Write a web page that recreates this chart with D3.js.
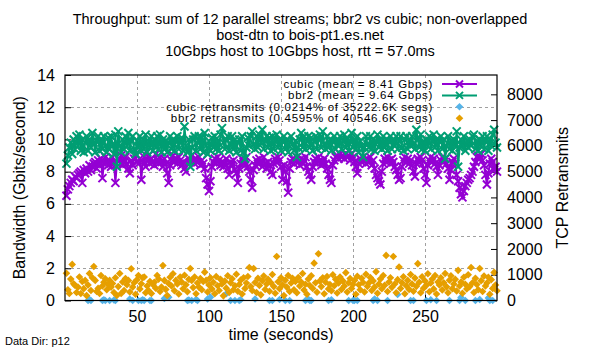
<!DOCTYPE html>
<html>
<head>
<meta charset="utf-8">
<script src="https://cdn.jsdelivr.net/npm/d3@7"></script>
<style>
  html, body { margin: 0; padding: 0; background: #fff; }
  svg { display: block; }
  text { font-family: "Liberation Sans", Arial, sans-serif; fill: #000; }
</style>
</head>
<body>
<svg id="chart" width="600" height="350"></svg>
<script>
// ---------------- DATA ----------------
const titleLines = [
  "Throughput: sum of 12 parallel streams; bbr2 vs cubic; non-overlapped",
  "bost-dtn to bois-pt1.es.net",
  "10Gbps host to 10Gbps host, rtt = 57.0ms"
];
const legendLabels = [
  "cubic (mean = 8.41 Gbps)",
  "bbr2 (mean = 9.64 Gbps)",
  "cubic retransmits (0.0214% of 35222.6K segs)",
  "bbr2 retransmits (0.4595% of 40546.6K segs)"
];
const xTicks = [50, 100, 150, 200, 250];
const yTicks = [0, 2, 4, 6, 8, 10, 12, 14];
const y2Ticks = [0, 1000, 2000, 3000, 4000, 5000, 6000, 7000, 8000];

// throughput per second (Gbps), t = 1..300
const cubicGbps = [
  6.5,6.9,7.1,7.3,7.5,7.4,7.7,7.6,7.8,7.9,
  8.0,7.3,8.1,7.9,8.2,8.0,8.4,8.1,8.3,8.5,
  8.6,8.2,8.7,8.4,8.8,7.6,8.5,8.9,8.6,8.4,
  8.7,8.3,8.9,8.6,7.3,8.5,8.8,8.7,9.0,8.4,
  8.6,8.9,8.5,8.2,7.9,8.7,8.4,8.8,9.1,8.6,
  8.5,8.8,7.5,8.6,8.9,8.3,8.7,9.0,8.5,8.8,
  8.6,8.4,9.1,8.7,8.5,8.9,8.6,8.3,8.8,8.5,
  7.9,7.3,8.4,8.7,9.0,8.6,8.8,8.5,8.9,8.7,
  8.4,8.6,8.2,8.0,8.5,8.8,8.6,9.0,8.7,8.5,
  8.8,8.6,8.9,8.4,8.7,8.5,8.2,7.6,7.2,6.8,
  7.4,8.3,8.6,8.8,8.5,8.9,8.7,8.4,8.6,8.3,
  8.5,8.8,8.2,7.8,8.6,8.4,8.7,8.1,7.9,7.3,
  8.2,8.5,8.8,8.6,8.4,8.9,8.3,8.0,7.5,7.0,
  8.1,8.4,8.7,8.5,8.8,8.6,8.3,8.9,8.5,8.2,
  8.6,8.4,8.0,7.8,8.5,8.8,8.6,8.9,8.7,8.3,
  7.5,8.4,8.0,7.4,6.7,8.2,8.6,8.8,8.5,8.7,
  8.9,8.6,8.4,8.8,8.5,8.7,8.9,8.3,8.0,7.8,
  7.5,8.3,8.6,8.8,8.5,8.9,8.7,8.4,8.6,8.8,
  8.5,8.2,7.8,7.5,7.3,8.4,8.7,8.9,9.0,8.8,
  9.1,8.9,9.0,8.8,9.1,8.9,9.0,8.7,9.1,8.9,
  8.6,8.3,7.9,8.5,8.8,8.6,8.9,8.7,8.5,8.8,
  8.6,8.9,8.4,8.7,8.2,7.8,7.6,7.4,7.2,8.0,
  8.5,8.8,8.6,8.9,8.7,8.5,8.8,8.6,8.3,8.1,
  7.8,7.5,7.6,8.3,8.7,8.9,8.6,8.8,8.5,8.7,
  8.4,8.0,7.7,8.5,8.8,8.6,8.9,8.7,8.2,7.8,
  7.3,8.4,8.7,8.9,8.6,8.8,8.5,8.3,7.8,8.4,
  8.7,8.9,8.6,8.8,8.5,8.2,7.5,8.1,8.6,8.8,
  8.5,7.8,7.4,7.0,6.6,6.4,6.8,7.1,7.3,7.5,
  7.6,7.8,8.0,8.3,8.6,8.9,9.0,8.8,9.1,8.7,
  8.4,7.8,7.2,7.9,8.5,8.8,8.6,8.1,8.3,8.0
];
const bbr2Gbps = [
  8.5,9.0,9.5,9.8,9.1,10.0,9.4,10.2,9.6,10.3,
  9.3,10.0,9.2,9.8,10.2,9.3,10.0,9.5,10.4,9.8,
  9.2,9.9,10.2,9.3,10.0,9.4,10.2,9.6,9.2,10.1,
  9.4,10.2,9.7,9.1,10.3,8.3,10.5,9.6,9.2,10.0,
  9.4,10.2,9.6,10.4,9.3,9.9,10.2,9.4,9.1,9.9,
  9.5,10.2,9.3,10.0,9.4,10.3,9.2,9.9,9.5,10.2,
  9.3,10.0,9.5,10.2,9.4,10.3,9.2,10.0,9.4,9.9,
  9.2,9.8,10.2,9.4,10.0,9.3,9.9,10.2,9.4,9.8,
  10.1,9.3,10.8,9.6,9.2,10.0,8.3,9.5,10.0,10.2,
  9.3,9.8,10.2,9.4,10.1,9.2,10.4,9.6,9.1,9.9,
  9.3,10.1,9.5,10.2,9.4,9.9,9.3,10.3,10.7,9.8,
  9.4,10.0,10.2,9.3,9.7,10.2,9.4,10.0,9.2,9.8,
  10.0,9.3,10.2,9.2,8.8,9.5,10.1,9.6,10.2,10.5,
  9.7,9.4,10.2,9.5,10.3,9.8,10.6,9.4,9.9,10.2,
  9.5,10.1,9.3,10.2,9.4,9.9,10.3,9.5,10.0,9.3,
  9.9,10.2,9.4,10.0,9.2,9.8,10.2,9.7,9.3,9.9,
  8.9,9.5,10.0,10.4,9.5,10.2,9.4,9.9,10.2,9.5,
  10.1,9.3,9.9,10.2,9.4,10.0,10.3,9.5,10.5,9.7,
  9.4,10.2,9.5,10.0,9.3,9.9,10.2,9.4,10.0,9.6,
  10.2,9.4,9.9,10.3,9.5,10.0,9.3,9.9,10.4,9.5,
  10.0,9.4,10.2,9.2,9.9,9.6,8.9,9.5,10.2,9.7,
  9.5,10.2,9.4,10.0,9.3,9.9,10.3,9.5,10.0,9.4,
  10.2,9.5,10.0,9.3,9.9,10.2,9.4,10.0,9.6,10.2,
  9.4,9.9,10.2,9.5,9.3,10.0,10.2,9.4,9.9,9.6,
  10.2,9.7,9.4,10.6,10.0,9.5,10.3,9.4,9.9,9.3,
  10.0,9.6,10.2,9.4,9.9,10.3,9.5,10.0,9.3,9.9,
  10.2,9.4,10.0,8.8,9.6,10.2,9.4,9.9,9.3,10.0,
  9.6,10.5,8.3,9.5,10.0,9.6,10.2,9.3,9.9,9.5,
  10.0,9.6,10.2,10.3,9.4,9.9,9.3,10.0,9.6,10.2,
  9.4,9.9,10.2,9.3,10.0,9.6,10.3,10.6,9.8,9.5
];
// bbr2 retransmits per second, t = 1..300
const bbr2Retrans = [
  1060,420,270,830,1400,650,580,310,520,910,
  270,740,460,780,190,600,1050,390,880,1320,
  780,350,470,270,970,560,710,840,420,620,
  780,520,660,310,880,195,540,1050,270,720,
  390,850,610,780,330,1230,520,690,240,810,
  970,450,650,880,910,300,560,390,740,270,
  620,710,480,970,830,350,520,1360,780,430,
  195,660,900,560,1040,380,780,640,250,910,
  720,455,980,610,340,820,1240,780,500,910,
  260,680,520,850,420,740,1100,780,330,600,
  880,450,710,260,930,570,390,820,640,180,
  750,480,960,310,690,840,420,570,1020,360,
  620,790,250,880,470,680,930,1280,540,390,
  1240,700,310,860,580,220,770,950,430,640,
  820,360,690,1010,540,280,1710,730,460,880,
  610,190,790,520,970,350,680,860,420,740,
  300,890,560,720,1050,410,630,240,830,580,
  960,470,1450,690,320,1815,760,540,880,260,
  710,930,450,620,380,1000,570,820,290,680,
  910,430,760,560,1080,330,690,850,470,620,
  780,240,940,610,420,860,700,330,1020,550,
  680,890,390,760,520,1120,280,640,830,460,
  970,590,1750,350,720,880,510,1710,640,300,
  810,1300,470,690,920,260,570,780,430,1010,
  640,360,870,550,1430,710,300,920,480,760,
  590,1040,340,680,830,450,970,250,720,600,
  880,410,690,1050,530,300,790,960,460,640,
  820,370,1170,560,720,280,900,630,450,1000,
  540,1280,690,310,860,620,420,1240,770,350,
  950,560,680,900,240,810,470,1090,600,380
];
// cubic retransmits: only the seconds where a point is drawn
const cubicRetransTimes = [
  16,17,18,26,27,28,31,34,35,45,47,51,53,54,55,59,60,69,72,85,86,88,91,92,99,
  101,112,115,118,121,122,132,142,144,149,153,156,167,169,170,171,183,185,197,200,
  201,203,214,215,217,224,231,240,242,251,254,258,267,274,275,278,285,288,294,295,297
];
const cubicRetransValues = [
  0,40,0,0,30,0,0,20,0,60,0,0,0,30,0,0,0,80,130,0,20,0,40,0,60,
  130,260,0,0,0,30,60,0,0,40,0,0,0,50,0,0,0,30,0,0,
  0,0,0,60,0,0,230,0,0,0,30,0,0,0,120,0,0,40,100,0,0
];

// ---------------- CHART ----------------
const svg = d3.select("#chart");
const L = 65, R = 497, T = 75, B = 300.5;
const seconds = cubicGbps.map((d, i) => i + 1);

const x = d3.scaleLinear().domain([0, 300]).range([L, R]);
const y = d3.scaleLinear().domain([0, 14]).range([B, T]);
const y2 = d3.scaleLinear().domain([0, 8750]).range([B, T]);

const colors = { cubic: "#9400d3", bbr2: "#009e73", cubicR: "#56b4e9", bbr2R: "#e69f00" };

// title
svg.append("g").selectAll("text").data(titleLines).join("text")
  .attr("x", 300).attr("y", (d, i) => 24 + i * 16)
  .attr("text-anchor", "middle").style("font-size", "14.5px").text(d => d);

// grid
const grid = svg.append("g").attr("stroke", "#a0a0a0").attr("stroke-width", 1).attr("stroke-dasharray", "3,3");
grid.selectAll(".gx").data(xTicks).join("line")
  .attr("x1", d => Math.round(x(d)) + 0.5).attr("x2", d => Math.round(x(d)) + 0.5)
  .attr("y1", T).attr("y2", B);
grid.selectAll(".gy").data(yTicks.filter(d => d > 0 && d < 14)).join("line")
  .attr("y1", d => Math.round(y(d)) + 0.5).attr("y2", d => Math.round(y(d)) + 0.5)
  .attr("x1", L).attr("x2", R);

// axes
const tickFont = "16px";
const xAxis = svg.append("g").attr("transform", `translate(0,${B})`)
  .call(d3.axisBottom(x).tickValues(xTicks).tickSizeInner(-6).tickSizeOuter(0).tickPadding(10));
const yAxis = svg.append("g").attr("transform", `translate(${L},0)`)
  .call(d3.axisLeft(y).tickValues(yTicks).tickSizeInner(-6).tickSizeOuter(0).tickPadding(10));
const y2Axis = svg.append("g").attr("transform", `translate(${R},0)`)
  .call(d3.axisRight(y2).tickValues(y2Ticks).tickFormat(d3.format("d")).tickSizeInner(-6).tickSizeOuter(0).tickPadding(10));
[xAxis, yAxis, y2Axis].forEach(g => {
  g.select(".domain").remove();
  g.selectAll("text").style("font-size", tickFont).style("font-family", '"Liberation Sans", Arial, sans-serif').attr("fill", "#000");
  g.selectAll(".tick line").attr("stroke", "#000");
});

// data marks
const plot = svg.append("g");
const crossSize = 4;
function linePoints(vals, color) {
  const line = d3.line().x((d, i) => x(seconds[i])).y(d => y(d));
  plot.append("path").datum(vals).attr("d", line).attr("fill", "none")
    .attr("stroke", color).attr("stroke-width", 2);
  const s = crossSize;
  plot.append("g").selectAll("path").data(vals).join("path")
    .attr("d", (d, i) => {
      const cx = x(seconds[i]), cy = y(d);
      return `M${cx - s},${cy - s}L${cx + s},${cy + s}M${cx - s},${cy + s}L${cx + s},${cy - s}`;
    })
    .attr("stroke", color).attr("stroke-width", 2).attr("fill", "none");
}
const diamond = (cx, cy, s) => `M${cx},${cy - s}L${cx + s},${cy}L${cx},${cy + s}L${cx - s},${cy}Z`;
linePoints(cubicGbps, colors.cubic);
linePoints(bbr2Gbps, colors.bbr2);
plot.append("g").selectAll("path").data(cubicRetransValues).join("path")
  .attr("d", (d, i) => diamond(x(cubicRetransTimes[i]), y2(d), 3.8)).attr("fill", colors.cubicR);
plot.append("g").selectAll("path").data(bbr2Retrans).join("path")
  .attr("d", (d, i) => diamond(x(seconds[i]), y2(d), 3.8)).attr("fill", colors.bbr2R);

// border
svg.append("rect").attr("x", L).attr("y", T).attr("width", R - L).attr("height", B - T)
  .attr("fill", "none").attr("stroke", "#000").attr("stroke-width", 1.2);

// legend
const legend = svg.append("g");
const legendColors = [colors.cubic, colors.bbr2, colors.cubicR, colors.bbr2R];
legendLabels.forEach((lab, i) => {
  const cy = 84 + i * 11.4;
  legend.append("text").attr("x", 433).attr("y", cy).attr("dy", "0.35em")
    .attr("text-anchor", "end").style("font-size", "11.5px").style("letter-spacing", "0.7px").text(lab);
  if (i < 2) {
    legend.append("line").attr("x1", 442).attr("x2", 477).attr("y1", cy).attr("y2", cy)
      .attr("stroke", legendColors[i]).attr("stroke-width", 2);
    const s = 3.5, cx = 459.5;
    legend.append("path").attr("d", `M${cx - s},${cy - s}L${cx + s},${cy + s}M${cx - s},${cy + s}L${cx + s},${cy - s}`)
      .attr("stroke", legendColors[i]).attr("stroke-width", 2);
  } else {
    legend.append("path").attr("d", diamond(459.5, cy, 3.8)).attr("fill", legendColors[i]);
  }
});

// axis labels
svg.append("text").attr("transform", `translate(19,${(T + B) / 2}) rotate(-90)`)
  .attr("text-anchor", "middle").attr("dy", "0.35em").style("font-size", "16px")
  .text("Bandwidth (Gbits/second)");
svg.append("text").attr("transform", `translate(562,${(T + B) / 2}) rotate(-90)`)
  .attr("text-anchor", "middle").attr("dy", "0.35em").style("font-size", "16px")
  .text("TCP Retransmits");
svg.append("text").attr("x", (L + R) / 2).attr("y", 334).attr("dy", "0.35em")
  .attr("text-anchor", "middle").style("font-size", "16px").text("time (seconds)");
svg.append("text").attr("x", 5).attr("y", 341).attr("dy", "0.35em")
  .style("font-size", "11px").text("Data Dir: p12");
</script>
</body>
</html>
